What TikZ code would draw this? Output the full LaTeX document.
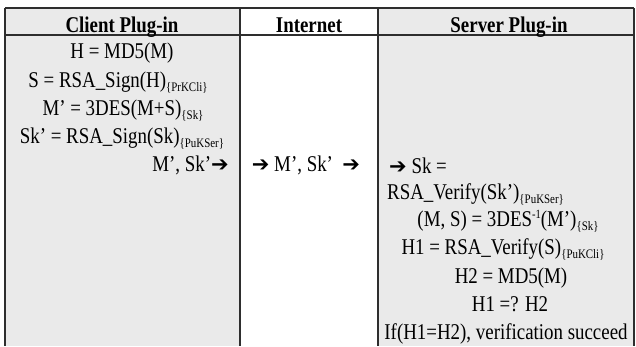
\documentclass[tikz,border=0pt]{standalone}
\usepackage{fontspec}
\setmainfont{Liberation Serif}[FakeStretch=0.84]
\newfontfamily\arrowfont{DejaVu Sans}
\newcommand{\rarr}{{\arrowfont\bfseries\fontsize{21}{21}\selectfont ➔}}
\newcommand{\kdsub}[1]{\raisebox{-4.5pt}{\fontsize{13}{13}\selectfont\{#1\}}}
\newcommand{\kdsup}[1]{\raisebox{8pt}{\fontsize{12.5}{12.5}\selectfont #1}}
\definecolor{cellgray}{HTML}{EAEAEA}
\definecolor{rulecol}{HTML}{2E2E2E}
\begin{document}
\begin{tikzpicture}[x=1pt,y=-1pt,
  txt/.style={anchor=base, inner sep=0pt, font=\fontsize{22.5}{27}\selectfont},
  hdr/.style={txt, font=\fontsize{22.5}{27}\selectfont\bfseries},
  rule/.style={draw=rulecol, line width=1.6pt}]
\useasboundingbox (0,0) rectangle (636,346);
% cell fills
\fill[cellgray] (5,8) rectangle (240,346);
\fill[cellgray] (378,8) rectangle (634,346);
% rules
\draw[rule, line width=2.6pt] (5,8) -- (634,8);
\draw[rule, line width=2pt] (5,35) -- (634,35);
\draw[rule, line width=2pt] (5,8) -- (5,346);
\draw[rule] (240,8) -- (240,346);
\draw[rule] (378,8) -- (378,346);
\draw[rule] (634,8) -- (634,346);
% headers
\node[hdr] (hclient) at (122,32) {Client Plug-in};
\node[hdr] (hnet) at (309,32) {Internet};
\node[hdr] (hserver) at (509,32) {Server Plug-in};
% client column
\node[txt] (c1) at (122,58) {H = MD5(M)};
\node[txt] (c2) at (118,87) {S = RSA\_Sign(H)\kdsub{PrKCli}};
\node[txt] (c3) at (123,115) {M’ = 3DES(M+S)\kdsub{Sk}};
\node[txt] (c4) at (122,143) {Sk’ = RSA\_Sign(Sk)\kdsub{PuKSer}};
\node[txt, anchor=base east] (c5) at (229,171) {M’, Sk’\rarr};
% internet column
\node[txt] (n1) at (306,171) {\rarr\ M’, Sk’ \ \rarr};
% server column
\node[txt, anchor=base west] (s1) at (389,173) {\rarr\ Sk =};
\node[txt, anchor=base west] (s2) at (387,199) {RSA\_Verify(Sk’)\kdsub{PuKSer}};
\node[txt] (s3) at (508,226) {(M, S) = 3DES\kdsup{-1}(M’)\kdsub{Sk}};
\node[txt] (s4) at (503,254) {H1 = RSA\_Verify(S)\kdsub{PuKCli}};
\node[txt] (s5) at (511,283) {H2 = MD5(M)};
\node[txt] (s6) at (510,311) {H1 =? H2};
\node[txt] (s7) at (506,339) {If(H1=H2), verification succeed};
\end{tikzpicture}
\end{document}
